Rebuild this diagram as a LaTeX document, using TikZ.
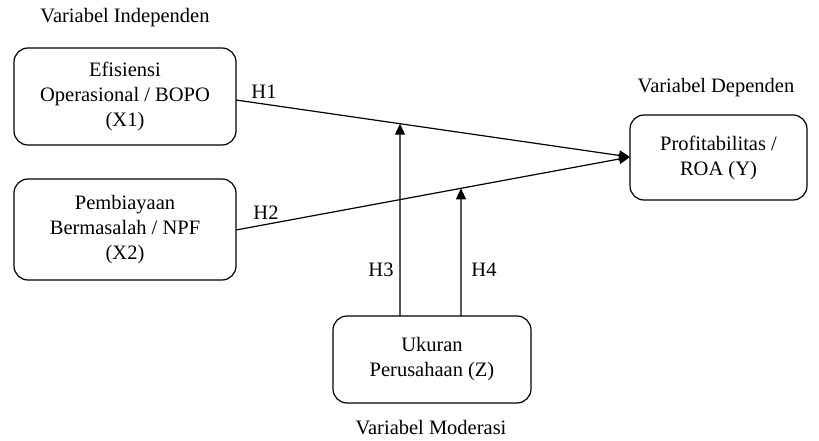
\documentclass[tikz,border=0pt]{standalone}
\usepackage{fontspec}
\setmainfont{Liberation Serif}
\usetikzlibrary{arrows.meta}
\begin{document}
\begin{tikzpicture}[x=1pt,y=-1pt,
  varbox/.style={draw, line width=1.2pt, rounded corners=14pt, align=center, inner sep=0pt},
  lbl/.style={},
  arr/.style={line width=1.2pt, -{Triangle[length=11pt,width=10pt]}},
  every node/.style={font=\fontsize{20.5}{25}\selectfont}]
\useasboundingbox (0,0) rectangle (819,441);
\node[varbox, minimum width=222pt, minimum height=97pt] (x1) at (125,96.5) {Efisiensi\\Operasional / BOPO\\(X1)};
\node[varbox, minimum width=222pt, minimum height=101pt] (x2) at (125,229.5) {Pembiayaan\\Bermasalah / NPF\\(X2)};
\node[varbox, minimum width=177pt, minimum height=85pt] (y) at (718.5,157.5) {Profitabilitas /\\ROA (Y)};
\node[varbox, minimum width=198pt, minimum height=87pt] (z) at (432,359.5) {Ukuran\\Perusahaan (Z)};
\node[lbl] (li) at (125,18) {Variabel Independen};
\node[lbl] (ld) at (716,88) {Variabel Dependen};
\node[lbl] (lm) at (431,428) {Variabel Moderasi};
\coordinate (s1) at (236,100);
\coordinate (s2) at (236,230);
\coordinate (t) at (630,157);
\draw[arr] (s1) -- (t) coordinate[pos=0.4162] (m1);
\draw[arr] (s2) -- (t) coordinate[pos=0.571] (m2);
\coordinate (z3) at (400,316);
\coordinate (z4) at (461,316);
\draw[arr] (z3) -- (m1);
\draw[arr] (z4) -- (m2);
\node (h1) at (264,92) {H1};
\node (h2) at (266,213) {H2};
\node (h3) at (381,270) {H3};
\node (h4) at (484,270) {H4};
\end{tikzpicture}
\end{document}
